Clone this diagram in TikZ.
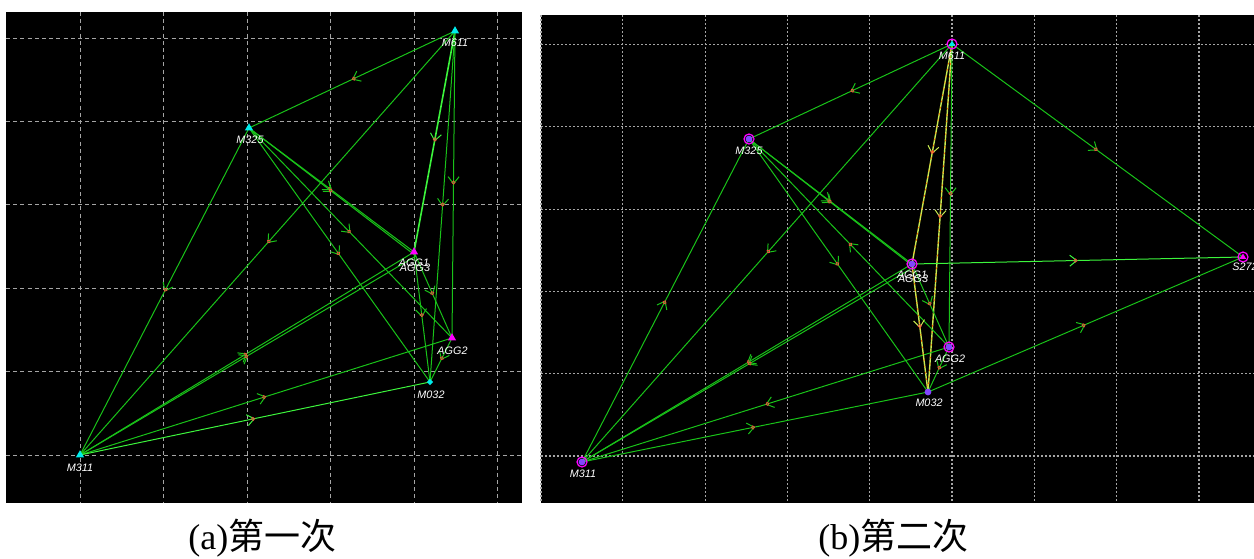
\documentclass[tikz,border=0pt]{standalone}
\usepackage{fontspec}
\setmainfont{Liberation Serif}
\newfontfamily\cjkfont{Noto Sans CJK SC}
\newfontfamily\labfont{Liberation Sans}
\usetikzlibrary{arrows.meta,decorations.markings,shapes.geometric}
\definecolor{eg}{RGB}{25,195,25}
\definecolor{egb}{RGB}{60,245,60}
\definecolor{ey}{RGB}{200,235,80}
\definecolor{cyn}{RGB}{0,235,235}
\definecolor{mag}{RGB}{255,0,255}
\definecolor{pur}{RGB}{130,70,255}
\definecolor{gridc}{RGB}{165,165,165}
\definecolor{dotc}{RGB}{235,80,60}
\begin{document}
\begin{tikzpicture}[x=0.5pt,y=-0.5pt,
  gridl/.style={draw=gridc,line width=0.5pt,dash pattern=on 2pt off 1.6pt},
  gridr/.style={draw=gridc,line width=0.6pt,dash pattern=on 1pt off 1pt},
  flow/.style={draw=#1,line width=0.5pt,postaction={decorate},
    decoration={markings,mark=at position 0.5 with {\arrow[#1,line width=0.5pt]{Straight Barb[length=3.5pt,width=5.5pt]}\draw[dotc,line width=0.4pt] (-1pt,0) circle (0.8pt);}}},
  flow/.default=eg,
  speckle/.style={postaction={draw=orange!85!red,line width=0.4pt,dash pattern=on 0.8pt off 2.4pt}},
  lbl/.style={text=white,font=\labfont\itshape\fontsize{5.4}{6}\selectfont,inner sep=0pt},
  tri/.style={regular polygon,regular polygon sides=3,fill=#1,inner sep=0pt,minimum size=4.8pt},
  dia/.style={diamond,fill=cyn,inner sep=0pt,minimum size=3.4pt},
  ring/.style={circle,draw=mag,line width=0.6pt,inner sep=0pt,minimum size=5pt},
  blob/.style={circle,fill=pur,inner sep=0pt,minimum size=3.4pt},
  captxt/.style={anchor=base west,font=\fontsize{18}{20}\selectfont,inner sep=0pt}
]
\path[fill=white] (0,0) rectangle (1254,558);
\useasboundingbox (0,0) rectangle (1254,558);
% ---------------- left panel ----------------
\fill[black] (6,12) rectangle (522,503);
\foreach \x in {80,163.5,247,330.5,414,497.5} \draw[gridl] (\x,12) -- (\x,503);
\foreach \y in {38,121.4,204.8,288.2,371.6,455} \draw[gridl] (6,\y) -- (522,\y);
\coordinate (L611) at (455,31);
\coordinate (L325) at (249,128);
\coordinate (LA1) at (414,252);
\coordinate (LA3) at (416,256);
\coordinate (LA2) at (452,338);
\coordinate (L032) at (430,382);
\coordinate (L311) at (80,455);
\draw[flow] (L611) -- (L325);
\draw[flow] (L611) -- (L311);
\draw[flow=egb,line width=0.8pt] (L611) -- (LA1);
\draw[flow] (L611) -- (L032);
\draw[flow] (L611) -- (LA2);
\draw[flow] (L325) -- (L311);
\draw[flow] (L325) -- (LA1);
\draw[flow] (L325) -- (LA3);
\draw[flow] (L325) -- (LA2);
\draw[flow] (L325) -- (L032);
\draw[flow] (L311) -- (LA1);
\draw[flow] (L311) -- (LA3);
\draw[flow] (L311) -- (LA2);
\draw[flow=egb] (L311) -- (L032);
\draw[flow] (LA1) -- (L032);
\draw[flow] (LA1) -- (LA2);
\draw[flow] (LA2) -- (L032);
\node[tri=cyn] (mL611) at (L611) {};
\node[tri=cyn] (mL325) at (L325) {};
\node[tri=mag] (mLA1) at (LA1) {};
\node[tri=mag] (mLA2) at (LA2) {};
\node[dia] (mL032) at (L032) {};
\node[tri=cyn] (mL311) at (L311) {};
\node[lbl] (tL611) at (455,43) {M611};
\node[lbl] (tL325) at (250,140) {M325};
\node[lbl] (tLA1) at (414,263) {AGG1};
\node[lbl] (tLA3) at (415,267.5) {AGG3};
\node[lbl] (tLA2) at (452.5,350.5) {AGG2};
\node[lbl] (tL032) at (431,395) {M032};
\node[lbl] (tL311) at (80,468) {M311};
% ---------------- right panel ----------------
\fill[black] (541,15) rectangle (1254,503);
\foreach \x in {541,622.8,705.1,787.4,869.7,952,1034.3,1116.6,1198.9} \draw[gridr] (\x,15) -- (\x,503);
\foreach \y in {44.5,126.8,209.1,291.4,373.7,456} \draw[gridr] (541,\y) -- (1254,\y);
\coordinate (R611) at (952,44);
\coordinate (R325) at (749,139);
\coordinate (RA1) at (912,264);
\coordinate (RA3) at (914,267);
\coordinate (RS) at (1243,257);
\coordinate (RA2) at (949,347);
\coordinate (R032) at (928,392);
\coordinate (R311) at (582,462);
\draw[flow] (R611) -- (R325);
\draw[flow] (R611) -- (R311);
\draw[flow] (R611) -- (RS);
\draw[flow=ey,line width=0.7pt,speckle] (R611) -- (RA1);
\draw[flow=ey,line width=0.7pt,speckle] (R611) -- (R032);
\draw[flow] (R611) -- (RA2);
\draw[flow] (R325) -- (RA1);
\draw[flow] (R325) -- (RA3);
\draw[flow] (RA2) -- (R325);
\draw[flow] (R325) -- (R032);
\draw[flow] (R311) -- (R325);
\draw[flow] (RA1) -- (R311);
\draw[flow] (RA3) -- (R311);
\draw[flow] (RA2) -- (R311);
\draw[flow] (R311) -- (R032);
\draw[flow] (R032) -- (RS);
\draw[flow=egb] (RA1) -- (RS);
\draw[flow=ey,line width=0.7pt,speckle] (RA1) -- (R032);
\draw[flow] (RA1) -- (RA2);
\draw[flow] (RA2) -- (R032);
\node[ring] (rR611) at (R611) {};
\node[tri=cyn,minimum size=3.6pt] (mR611) at (R611) {};
\node[ring] (rR325) at (R325) {};
\node[blob] (mR325) at (R325) {};
\node[ring] (rRA1) at (RA1) {};
\node[blob] (mRA1) at (RA1) {};
\node[ring] (rRS) at (RS) {};
\node[tri=mag,minimum size=3.6pt] (mRS) at (RS) {};
\node[ring] (rRA2) at (RA2) {};
\node[blob] (mRA2) at (RA2) {};
\node[blob] (mR032) at (R032) {};
\node[ring] (rR311) at (R311) {};
\node[blob] (mR311) at (R311) {};
\node[lbl] (tR611) at (952,56) {M611};
\node[lbl] (tR325) at (749,151) {M325};
\node[lbl] (tRA1) at (912,275) {AGG1};
\node[lbl] (tRA3) at (913,278.5) {AGG3};
\node[lbl] (tRS) at (1245,267) {S272};
\node[lbl] (tRA2) at (950,359) {AGG2};
\node[lbl] (tR032) at (929,403) {M032};
\node[lbl] (tR311) at (583,474) {M311};
% ---------------- captions ----------------
\node[captxt] (capa) at (188,549) {(a){\cjkfont 第一次}};
\node[captxt] (capb) at (818,549) {(b){\cjkfont 第二次}};
\end{tikzpicture}
\end{document}
